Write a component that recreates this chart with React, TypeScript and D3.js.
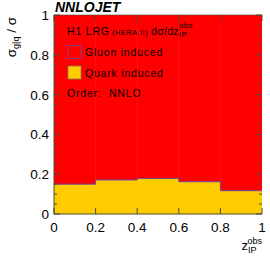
import React from 'react';
import * as d3 from 'd3';

const binEdges = [0, 0.2, 0.4, 0.6, 0.8, 1.0];
const quarkFrac = [0.15, 0.171, 0.179, 0.162, 0.117];
const xTicks = [0, 0.2, 0.4, 0.6, 0.8, 1];
const yTicks = [0, 0.2, 0.4, 0.6, 0.8, 1];

const W = 270, H = 259;
const margin = { top: 15, right: 8, bottom: 45, left: 54 };
const FONT = 'Liberation Sans, Arial, sans-serif';

export default function App() {
  const innerW = W - margin.left - margin.right;
  const innerH = H - margin.top - margin.bottom;
  const x = d3.scaleLinear().domain([0, 1]).range([margin.left, margin.left + innerW]);
  const y = d3.scaleLinear().domain([0, 1]).range([margin.top + innerH, margin.top]);

  // step outline of the quark fraction
  const stepPts: [number, number][] = [];
  quarkFrac.forEach((v, i) => {
    stepPts.push([binEdges[i], v]);
    stepPts.push([binEdges[i + 1], v]);
  });
  const line = d3.line<[number, number]>().x(d => x(d[0])).y(d => y(d[1]));
  const area = d3.area<[number, number]>().x(d => x(d[0])).y0(y(0)).y1(d => y(d[1]));

  const minorY = d3.range(0, 1.0001, 0.05);
  const tickCol = '#4a4a3a';
  const lg = { fontFamily: FONT, fontSize: 10.5, letterSpacing: 0.8, fill: '#000' };

  return (
    <svg width={W} height={H} style={{ position: 'absolute', left: 0, top: 0, background: '#fff' }}>
      {/* gluon part */}
      <rect x={x(0)} y={y(1)} width={innerW} height={innerH} fill="#ff0000" />
      {binEdges.slice(1, -1).map(e => (
        <line key={e} x1={x(e)} x2={x(e)} y1={y(1)} y2={y(0)} stroke="#ff2020" strokeWidth={0.5} />
      ))}
      {/* quark part */}
      <path d={area(stepPts) ?? ''} fill="#ffcc00" />
      <path d={line(stepPts) ?? ''} fill="none" stroke="#6a4aa0" strokeWidth={1} />

      {/* frame */}
      <line x1={x(0)} x2={x(0)} y1={y(0)} y2={y(1)} stroke={tickCol} strokeWidth={1} />
      <line x1={x(0)} x2={x(1)} y1={y(0)} y2={y(0)} stroke={tickCol} strokeWidth={1} />
      <line x1={x(0)} x2={x(1)} y1={y(1)} y2={y(1)} stroke={tickCol} strokeWidth={0.6} />

      {/* y ticks */}
      {minorY.map((t, i) => {
        const len = i % 4 === 0 ? 6 : 3;
        return (
          <g key={i}>
            <line x1={x(0)} x2={x(0) + len} y1={y(t)} y2={y(t)} stroke={tickCol} strokeWidth={1} />
            <line x1={x(1)} x2={x(1) - len} y1={y(t)} y2={y(t)} stroke={tickCol} strokeWidth={1} />
          </g>
        );
      })}
      {yTicks.map(t => (
        <text key={t} x={x(0) - 5} y={y(t) + 5} textAnchor="end" fontFamily={FONT} fontSize={13.5} fill="#000">
          {d3.format('~g')(t)}
        </text>
      ))}

      {/* x ticks */}
      {xTicks.map(t => (
        <g key={t}>
          <line x1={x(t)} x2={x(t)} y1={y(0)} y2={y(0) - 6} stroke={tickCol} strokeWidth={1} />
          <line x1={x(t)} x2={x(t)} y1={y(1)} y2={y(1) + 6} stroke={tickCol} strokeWidth={1} />
          <text x={x(t)} y={y(0) + 18} textAnchor="middle" fontFamily={FONT} fontSize={13.5} fill="#000">
            {d3.format('~g')(t)}
          </text>
        </g>
      ))}

      {/* title */}
      <text x={55} y={12} fontFamily={FONT} fontWeight="bold" fontStyle="italic" fontSize={14} fill="#000">NNLOJET</text>

      {/* axis titles */}
      <text transform={`translate(16,17) rotate(-90)`} textAnchor="end" fontFamily={FONT} fontSize={13.5} fill="#000">
        σ<tspan fontSize={9} dy={3}>g|q</tspan><tspan dy={-3}> / σ</tspan>
      </text>
      <text x={262} y={250} textAnchor="end" fontFamily={FONT} fontSize={13} fill="#000">
        z<tspan fontSize={9} dy={3}>IP</tspan><tspan fontSize={9} dx={-9} dy={-9}>obs</tspan>
      </text>

      {/* legend */}
      <text y={34.5} {...lg}>
        <tspan x={67}>H1 LRG</tspan>
        <tspan x={112} fontSize={7.5} letterSpacing={0.5}>(HERA II)</tspan>
        <tspan x={151} letterSpacing={0.3}>dσ/dz</tspan>
        <tspan x={179} y={36.5} fontSize={8} letterSpacing={0.3}>IP</tspan>
        <tspan x={179} y={28} fontSize={8} letterSpacing={0.3}>obs</tspan>
      </text>
      <rect x={68} y={45.5} width={13} height={13} fill="#ff0000" stroke="#6a4aa0" strokeWidth={0.8} />
      <text x={85} y={56} {...lg}>Gluon induced</text>
      <rect x={68} y={66} width={13} height={13} fill="#ffcc00" stroke="#8a7a50" strokeWidth={0.8} />
      <text x={85} y={76.5} {...lg}>Quark induced</text>
      <text x={67} y={97} {...lg} style={{ whiteSpace: 'pre' }}>Order:  NNLO</text>
    </svg>
  );
}
